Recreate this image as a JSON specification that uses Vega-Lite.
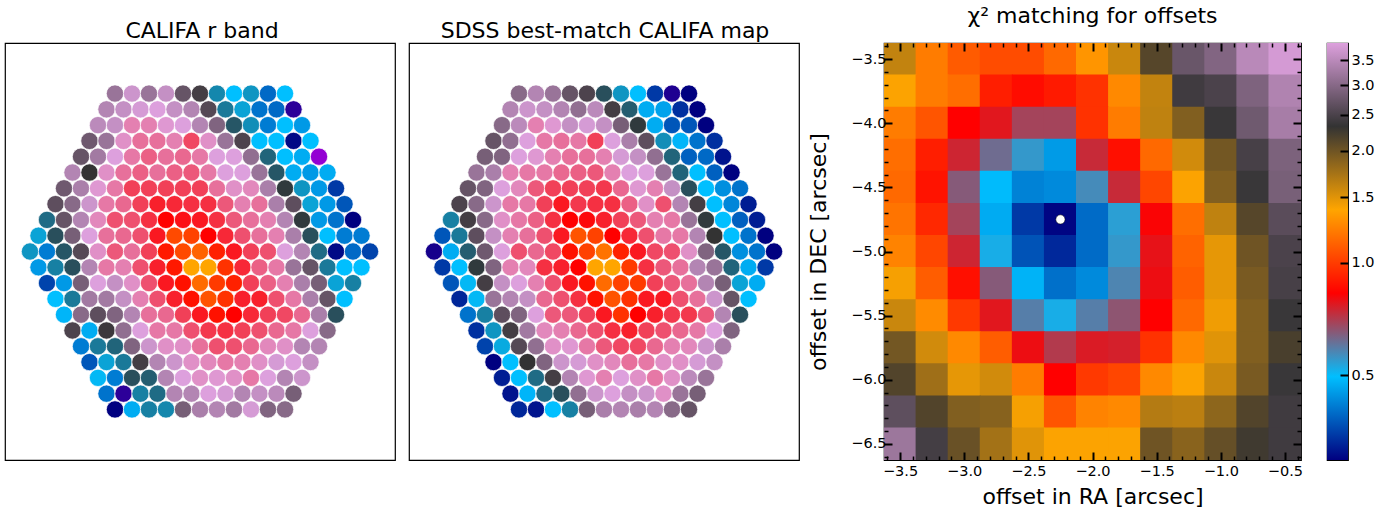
{"$schema":"https://vega.github.io/schema/vega-lite/v6.json","background":"white","padding":{"left":4,"top":4,"right":0,"bottom":0},"config":{"view":{"stroke":"black","strokeWidth":1.2},"font":"DejaVu Sans","title":{"font":"DejaVu Sans","fontWeight":"normal","fontSize":22,"color":"black","anchor":"middle"}},
"resolve":{"scale":{"color":"independent"}},
"datasets":{
"califa":[
{"x":-10,"y":10,"v":36},{"x":-8,"y":10,"v":39},{"x":-6,"y":10,"v":36},{"x":-4,"y":10,"v":38.5},{"x":-2,"y":10,"v":33},{"x":0,"y":10,"v":31},{"x":2,"y":10,"v":24},{"x":4,"y":10,"v":20},{"x":6,"y":10,"v":23},{"x":8,"y":10,"v":15.5},{"x":10,"y":10,"v":20},
{"x":-11,"y":9,"v":37.5},{"x":-9,"y":9,"v":38.5},{"x":-7,"y":9,"v":39.5},{"x":-5,"y":9,"v":40},{"x":-3,"y":9,"v":38.5},{"x":-1,"y":9,"v":37.5},{"x":1,"y":9,"v":32},{"x":3,"y":9,"v":25},{"x":5,"y":9,"v":22},{"x":7,"y":9,"v":16},{"x":9,"y":9,"v":15.5},{"x":11,"y":9,"v":7},
{"x":-12,"y":8,"v":38},{"x":-10,"y":8,"v":38.5},{"x":-8,"y":8,"v":42},{"x":-6,"y":8,"v":42},{"x":-4,"y":8,"v":40.5},{"x":-2,"y":8,"v":40},{"x":0,"y":8,"v":37.5},{"x":2,"y":8,"v":34.5},{"x":4,"y":8,"v":27.5},{"x":6,"y":8,"v":23.5},{"x":8,"y":8,"v":16.5},{"x":10,"y":8,"v":20},{"x":12,"y":8,"v":18},
{"x":-13,"y":7,"v":33.5},{"x":-11,"y":7,"v":36},{"x":-9,"y":7,"v":41},{"x":-7,"y":7,"v":43},{"x":-5,"y":7,"v":43},{"x":-3,"y":7,"v":42},{"x":-1,"y":7,"v":45.5},{"x":1,"y":7,"v":41},{"x":3,"y":7,"v":36},{"x":5,"y":7,"v":31.5},{"x":7,"y":7,"v":20},{"x":9,"y":7,"v":20},{"x":11,"y":7,"v":10.5},{"x":13,"y":7,"v":20},
{"x":-14,"y":6,"v":33},{"x":-12,"y":6,"v":36.5},{"x":-10,"y":6,"v":40},{"x":-8,"y":6,"v":42.5},{"x":-6,"y":6,"v":44},{"x":-4,"y":6,"v":43},{"x":-2,"y":6,"v":43.5},{"x":0,"y":6,"v":42.5},{"x":2,"y":6,"v":40},{"x":4,"y":6,"v":40},{"x":6,"y":6,"v":35.5},{"x":8,"y":6,"v":26.5},{"x":10,"y":6,"v":20},{"x":12,"y":6,"v":19},{"x":14,"y":6,"v":0},
{"x":-15,"y":5,"v":37.5},{"x":-13,"y":5,"v":30},{"x":-11,"y":5,"v":41},{"x":-9,"y":5,"v":43},{"x":-7,"y":5,"v":44},{"x":-5,"y":5,"v":43},{"x":-3,"y":5,"v":44},{"x":-1,"y":5,"v":44.5},{"x":1,"y":5,"v":42.5},{"x":3,"y":5,"v":40},{"x":5,"y":5,"v":40},{"x":7,"y":5,"v":36},{"x":9,"y":5,"v":27.5},{"x":11,"y":5,"v":19},{"x":13,"y":5,"v":18},{"x":15,"y":5,"v":19},
{"x":-16,"y":4,"v":33.5},{"x":-14,"y":4,"v":37},{"x":-12,"y":4,"v":40.5},{"x":-10,"y":4,"v":42.5},{"x":-8,"y":4,"v":46},{"x":-6,"y":4,"v":46},{"x":-4,"y":4,"v":46},{"x":-2,"y":4,"v":46},{"x":0,"y":4,"v":46},{"x":2,"y":4,"v":43},{"x":4,"y":4,"v":41},{"x":6,"y":4,"v":41.5},{"x":8,"y":4,"v":37},{"x":10,"y":4,"v":29.5},{"x":12,"y":4,"v":23},{"x":14,"y":4,"v":18},{"x":16,"y":4,"v":13},
{"x":-17,"y":3,"v":32.5},{"x":-15,"y":3,"v":35},{"x":-13,"y":3,"v":39},{"x":-11,"y":3,"v":42.5},{"x":-9,"y":3,"v":43.5},{"x":-7,"y":3,"v":46},{"x":-5,"y":3,"v":48},{"x":-3,"y":3,"v":47.5},{"x":-1,"y":3,"v":47},{"x":1,"y":3,"v":47},{"x":3,"y":3,"v":44.5},{"x":5,"y":3,"v":42},{"x":7,"y":3,"v":43},{"x":9,"y":3,"v":37},{"x":11,"y":3,"v":32.5},{"x":13,"y":3,"v":22},{"x":15,"y":3,"v":18},{"x":17,"y":3,"v":14.5},
{"x":-18,"y":2,"v":26},{"x":-16,"y":2,"v":33},{"x":-14,"y":2,"v":37.5},{"x":-12,"y":2,"v":41.5},{"x":-10,"y":2,"v":45},{"x":-8,"y":2,"v":45},{"x":-6,"y":2,"v":47},{"x":-4,"y":2,"v":50},{"x":-2,"y":2,"v":49},{"x":0,"y":2,"v":48.5},{"x":2,"y":2,"v":47},{"x":4,"y":2,"v":44.5},{"x":6,"y":2,"v":43},{"x":8,"y":2,"v":42},{"x":10,"y":2,"v":37.5},{"x":12,"y":2,"v":29.5},{"x":14,"y":2,"v":18},{"x":16,"y":2,"v":16},{"x":18,"y":2,"v":10},
{"x":-19,"y":1,"v":22},{"x":-17,"y":1,"v":28},{"x":-15,"y":1,"v":34},{"x":-13,"y":1,"v":40},{"x":-11,"y":1,"v":43},{"x":-9,"y":1,"v":43.5},{"x":-7,"y":1,"v":45},{"x":-5,"y":1,"v":48.5},{"x":-3,"y":1,"v":54.5},{"x":-1,"y":1,"v":54},{"x":1,"y":1,"v":50},{"x":3,"y":1,"v":47.5},{"x":5,"y":1,"v":45},{"x":7,"y":1,"v":43},{"x":9,"y":1,"v":42},{"x":11,"y":1,"v":37},{"x":13,"y":1,"v":28},{"x":15,"y":1,"v":20},{"x":17,"y":1,"v":16.5},{"x":19,"y":1,"v":16.5},
{"x":-20,"y":0,"v":23},{"x":-18,"y":0,"v":16.5},{"x":-16,"y":0,"v":27.5},{"x":-14,"y":0,"v":32},{"x":-12,"y":0,"v":41},{"x":-10,"y":0,"v":44.5},{"x":-8,"y":0,"v":43},{"x":-6,"y":0,"v":46},{"x":-4,"y":0,"v":51.5},{"x":-2,"y":0,"v":54.5},{"x":0,"y":0,"v":56},{"x":2,"y":0,"v":52},{"x":4,"y":0,"v":48.5},{"x":6,"y":0,"v":46},{"x":8,"y":0,"v":45},{"x":10,"y":0,"v":40},{"x":12,"y":0,"v":37.5},{"x":14,"y":0,"v":26},{"x":16,"y":0,"v":10.5},{"x":18,"y":0,"v":15.5},{"x":20,"y":0,"v":13.5},
{"x":-19,"y":-1,"v":18},{"x":-17,"y":-1,"v":24.5},{"x":-15,"y":-1,"v":28},{"x":-13,"y":-1,"v":37.5},{"x":-11,"y":-1,"v":42.5},{"x":-9,"y":-1,"v":42},{"x":-7,"y":-1,"v":45},{"x":-5,"y":-1,"v":48},{"x":-3,"y":-1,"v":51.5},{"x":-1,"y":-1,"v":60},{"x":1,"y":-1,"v":60},{"x":3,"y":-1,"v":53},{"x":5,"y":-1,"v":47.5},{"x":7,"y":-1,"v":44},{"x":9,"y":-1,"v":42.5},{"x":11,"y":-1,"v":36},{"x":13,"y":-1,"v":33},{"x":15,"y":-1,"v":25},{"x":17,"y":-1,"v":20},{"x":19,"y":-1,"v":20},
{"x":-18,"y":-2,"v":13.5},{"x":-16,"y":-2,"v":18},{"x":-14,"y":-2,"v":34},{"x":-12,"y":-2,"v":40},{"x":-10,"y":-2,"v":38.5},{"x":-8,"y":-2,"v":41},{"x":-6,"y":-2,"v":45},{"x":-4,"y":-2,"v":48.5},{"x":-2,"y":-2,"v":51},{"x":0,"y":-2,"v":56.5},{"x":2,"y":-2,"v":53.5},{"x":4,"y":-2,"v":52},{"x":6,"y":-2,"v":46},{"x":8,"y":-2,"v":44},{"x":10,"y":-2,"v":42},{"x":12,"y":-2,"v":37},{"x":14,"y":-2,"v":34},{"x":16,"y":-2,"v":22},{"x":18,"y":-2,"v":24.5},
{"x":-17,"y":-3,"v":20},{"x":-15,"y":-3,"v":25},{"x":-13,"y":-3,"v":36.5},{"x":-11,"y":-3,"v":36.5},{"x":-9,"y":-3,"v":38.5},{"x":-7,"y":-3,"v":42},{"x":-5,"y":-3,"v":45},{"x":-3,"y":-3,"v":48},{"x":-1,"y":-3,"v":51},{"x":1,"y":-3,"v":55},{"x":3,"y":-3,"v":53},{"x":5,"y":-3,"v":48},{"x":7,"y":-3,"v":48},{"x":9,"y":-3,"v":45},{"x":11,"y":-3,"v":42.5},{"x":13,"y":-3,"v":37},{"x":15,"y":-3,"v":33},{"x":17,"y":-3,"v":20},
{"x":-16,"y":-4,"v":19.5},{"x":-14,"y":-4,"v":35},{"x":-12,"y":-4,"v":32.5},{"x":-10,"y":-4,"v":34.5},{"x":-8,"y":-4,"v":37.5},{"x":-6,"y":-4,"v":43},{"x":-4,"y":-4,"v":43.5},{"x":-2,"y":-4,"v":46},{"x":0,"y":-4,"v":48.5},{"x":2,"y":-4,"v":51},{"x":4,"y":-4,"v":50},{"x":6,"y":-4,"v":47.5},{"x":8,"y":-4,"v":46},{"x":10,"y":-4,"v":45.5},{"x":12,"y":-4,"v":43.5},{"x":14,"y":-4,"v":37},{"x":16,"y":-4,"v":28},
{"x":-15,"y":-5,"v":31.5},{"x":-13,"y":-5,"v":19},{"x":-11,"y":-5,"v":30.5},{"x":-9,"y":-5,"v":35.5},{"x":-7,"y":-5,"v":40},{"x":-5,"y":-5,"v":42.5},{"x":-3,"y":-5,"v":42.5},{"x":-1,"y":-5,"v":45},{"x":1,"y":-5,"v":46.5},{"x":3,"y":-5,"v":47},{"x":5,"y":-5,"v":46},{"x":7,"y":-5,"v":45},{"x":9,"y":-5,"v":43.5},{"x":11,"y":-5,"v":42.5},{"x":13,"y":-5,"v":40},{"x":15,"y":-5,"v":35},
{"x":-14,"y":-6,"v":16.5},{"x":-12,"y":-6,"v":25},{"x":-10,"y":-6,"v":26.5},{"x":-8,"y":-6,"v":34.5},{"x":-6,"y":-6,"v":39},{"x":-4,"y":-6,"v":41},{"x":-2,"y":-6,"v":41},{"x":0,"y":-6,"v":43},{"x":2,"y":-6,"v":45},{"x":4,"y":-6,"v":45},{"x":6,"y":-6,"v":43.5},{"x":8,"y":-6,"v":41.5},{"x":10,"y":-6,"v":41},{"x":12,"y":-6,"v":37.5},{"x":14,"y":-6,"v":37.5},
{"x":-13,"y":-7,"v":14.5},{"x":-11,"y":-7,"v":22},{"x":-9,"y":-7,"v":25},{"x":-7,"y":-7,"v":31},{"x":-5,"y":-7,"v":37.5},{"x":-3,"y":-7,"v":39},{"x":-1,"y":-7,"v":41},{"x":1,"y":-7,"v":41.5},{"x":3,"y":-7,"v":42.5},{"x":5,"y":-7,"v":42},{"x":7,"y":-7,"v":41},{"x":9,"y":-7,"v":39.5},{"x":11,"y":-7,"v":40},{"x":13,"y":-7,"v":38.5},
{"x":-12,"y":-8,"v":20.5},{"x":-10,"y":-8,"v":16.5},{"x":-8,"y":-8,"v":28},{"x":-6,"y":-8,"v":27},{"x":-4,"y":-8,"v":37.5},{"x":-2,"y":-8,"v":40},{"x":0,"y":-8,"v":41},{"x":2,"y":-8,"v":40.5},{"x":4,"y":-8,"v":41},{"x":6,"y":-8,"v":42.5},{"x":8,"y":-8,"v":40},{"x":10,"y":-8,"v":37.5},{"x":12,"y":-8,"v":39},
{"x":-11,"y":-9,"v":16},{"x":-9,"y":-9,"v":7},{"x":-7,"y":-9,"v":24.5},{"x":-5,"y":-9,"v":26},{"x":-3,"y":-9,"v":37.5},{"x":-1,"y":-9,"v":37.5},{"x":1,"y":-9,"v":40},{"x":3,"y":-9,"v":39.5},{"x":5,"y":-9,"v":37.5},{"x":7,"y":-9,"v":38.5},{"x":9,"y":-9,"v":38},{"x":11,"y":-9,"v":34},
{"x":-10,"y":-10,"v":10},{"x":-8,"y":-10,"v":19},{"x":-6,"y":-10,"v":24.5},{"x":-4,"y":-10,"v":24},{"x":-2,"y":-10,"v":34},{"x":0,"y":-10,"v":37},{"x":2,"y":-10,"v":37.5},{"x":4,"y":-10,"v":36.5},{"x":6,"y":-10,"v":39.5},{"x":8,"y":-10,"v":34.5},{"x":10,"y":-10,"v":35}
],
"sdss":[
{"x":-10,"y":10,"v":35},{"x":-8,"y":10,"v":37.5},{"x":-6,"y":10,"v":36},{"x":-4,"y":10,"v":33},{"x":-2,"y":10,"v":31.5},{"x":0,"y":10,"v":28},{"x":2,"y":10,"v":23},{"x":4,"y":10,"v":20},{"x":6,"y":10,"v":13},{"x":8,"y":10,"v":8},{"x":10,"y":10,"v":10},
{"x":-11,"y":9,"v":37.5},{"x":-9,"y":9,"v":39},{"x":-7,"y":9,"v":38.5},{"x":-5,"y":9,"v":37.5},{"x":-3,"y":9,"v":35.5},{"x":-1,"y":9,"v":38},{"x":1,"y":9,"v":31},{"x":3,"y":9,"v":27},{"x":5,"y":9,"v":19},{"x":7,"y":9,"v":18.5},{"x":9,"y":9,"v":12.5},{"x":11,"y":9,"v":10},
{"x":-12,"y":8,"v":35},{"x":-10,"y":8,"v":38},{"x":-8,"y":8,"v":42},{"x":-6,"y":8,"v":40.5},{"x":-4,"y":8,"v":38.5},{"x":-2,"y":8,"v":39.5},{"x":0,"y":8,"v":38.5},{"x":2,"y":8,"v":34},{"x":4,"y":8,"v":29.5},{"x":6,"y":8,"v":19},{"x":8,"y":8,"v":14.5},{"x":10,"y":8,"v":14.5},{"x":12,"y":8,"v":10},
{"x":-13,"y":7,"v":33},{"x":-11,"y":7,"v":35.5},{"x":-9,"y":7,"v":40},{"x":-7,"y":7,"v":42.5},{"x":-5,"y":7,"v":43},{"x":-3,"y":7,"v":42.5},{"x":-1,"y":7,"v":46},{"x":1,"y":7,"v":40},{"x":3,"y":7,"v":37},{"x":5,"y":7,"v":32.5},{"x":7,"y":7,"v":23.5},{"x":9,"y":7,"v":19.5},{"x":11,"y":7,"v":16},{"x":13,"y":7,"v":12.5},
{"x":-14,"y":6,"v":34},{"x":-12,"y":6,"v":34.5},{"x":-10,"y":6,"v":40},{"x":-8,"y":6,"v":40.5},{"x":-6,"y":6,"v":42},{"x":-4,"y":6,"v":43},{"x":-2,"y":6,"v":43},{"x":0,"y":6,"v":42},{"x":2,"y":6,"v":39.5},{"x":4,"y":6,"v":38.5},{"x":6,"y":6,"v":35.5},{"x":8,"y":6,"v":26.5},{"x":10,"y":6,"v":15},{"x":12,"y":6,"v":15.5},{"x":14,"y":6,"v":11},
{"x":-15,"y":5,"v":36},{"x":-13,"y":5,"v":37},{"x":-11,"y":5,"v":42},{"x":-9,"y":5,"v":42.5},{"x":-7,"y":5,"v":42.5},{"x":-5,"y":5,"v":43.5},{"x":-3,"y":5,"v":44},{"x":-1,"y":5,"v":44.5},{"x":1,"y":5,"v":42},{"x":3,"y":5,"v":40},{"x":5,"y":5,"v":40},{"x":7,"y":5,"v":36},{"x":9,"y":5,"v":26.5},{"x":11,"y":5,"v":20},{"x":13,"y":5,"v":15},{"x":15,"y":5,"v":10},
{"x":-16,"y":4,"v":33},{"x":-14,"y":4,"v":34.5},{"x":-12,"y":4,"v":40},{"x":-10,"y":4,"v":41.5},{"x":-8,"y":4,"v":44.5},{"x":-6,"y":4,"v":46},{"x":-4,"y":4,"v":46},{"x":-2,"y":4,"v":46},{"x":0,"y":4,"v":46.5},{"x":2,"y":4,"v":43.5},{"x":4,"y":4,"v":40.5},{"x":6,"y":4,"v":42},{"x":8,"y":4,"v":38.5},{"x":10,"y":4,"v":28},{"x":12,"y":4,"v":20},{"x":14,"y":4,"v":17.5},{"x":16,"y":4,"v":16},
{"x":-17,"y":3,"v":31.5},{"x":-15,"y":3,"v":35},{"x":-13,"y":3,"v":39},{"x":-11,"y":3,"v":42.5},{"x":-9,"y":3,"v":42.5},{"x":-7,"y":3,"v":46},{"x":-5,"y":3,"v":48.5},{"x":-3,"y":3,"v":46.5},{"x":-1,"y":3,"v":47},{"x":1,"y":3,"v":47},{"x":3,"y":3,"v":44},{"x":5,"y":3,"v":41},{"x":7,"y":3,"v":45},{"x":9,"y":3,"v":37.5},{"x":11,"y":3,"v":31},{"x":13,"y":3,"v":20},{"x":15,"y":3,"v":17},{"x":17,"y":3,"v":11.5},
{"x":-18,"y":2,"v":24.5},{"x":-16,"y":2,"v":31},{"x":-14,"y":2,"v":35},{"x":-12,"y":2,"v":41},{"x":-10,"y":2,"v":42.5},{"x":-8,"y":2,"v":44},{"x":-6,"y":2,"v":47},{"x":-4,"y":2,"v":50},{"x":-2,"y":2,"v":49.5},{"x":0,"y":2,"v":48},{"x":2,"y":2,"v":46},{"x":4,"y":2,"v":44.5},{"x":6,"y":2,"v":42},{"x":8,"y":2,"v":42.5},{"x":10,"y":2,"v":36},{"x":12,"y":2,"v":29.5},{"x":14,"y":2,"v":20},{"x":16,"y":2,"v":15},{"x":18,"y":2,"v":11.5},
{"x":-19,"y":1,"v":14.5},{"x":-17,"y":1,"v":25},{"x":-15,"y":1,"v":32.5},{"x":-13,"y":1,"v":38.5},{"x":-11,"y":1,"v":42},{"x":-9,"y":1,"v":43},{"x":-7,"y":1,"v":45},{"x":-5,"y":1,"v":48.5},{"x":-3,"y":1,"v":55},{"x":-1,"y":1,"v":54},{"x":1,"y":1,"v":50},{"x":3,"y":1,"v":47.5},{"x":5,"y":1,"v":45},{"x":7,"y":1,"v":42.5},{"x":9,"y":1,"v":42.5},{"x":11,"y":1,"v":37.5},{"x":13,"y":1,"v":30},{"x":15,"y":1,"v":20},{"x":17,"y":1,"v":16},{"x":19,"y":1,"v":10},
{"x":-20,"y":0,"v":8.5},{"x":-18,"y":0,"v":19},{"x":-16,"y":0,"v":27},{"x":-14,"y":0,"v":33.5},{"x":-12,"y":0,"v":40},{"x":-10,"y":0,"v":45},{"x":-8,"y":0,"v":43.5},{"x":-6,"y":0,"v":45.5},{"x":-4,"y":0,"v":51},{"x":-2,"y":0,"v":54},{"x":0,"y":0,"v":57},{"x":2,"y":0,"v":52},{"x":4,"y":0,"v":48.5},{"x":6,"y":0,"v":45.5},{"x":8,"y":0,"v":45},{"x":10,"y":0,"v":41},{"x":12,"y":0,"v":34.5},{"x":14,"y":0,"v":27.5},{"x":16,"y":0,"v":17.5},{"x":18,"y":0,"v":16},{"x":20,"y":0,"v":10},
{"x":-19,"y":-1,"v":13},{"x":-17,"y":-1,"v":20},{"x":-15,"y":-1,"v":29.5},{"x":-13,"y":-1,"v":34.5},{"x":-11,"y":-1,"v":42},{"x":-9,"y":-1,"v":41.5},{"x":-7,"y":-1,"v":47},{"x":-5,"y":-1,"v":48},{"x":-3,"y":-1,"v":50},{"x":-1,"y":-1,"v":60},{"x":1,"y":-1,"v":60},{"x":3,"y":-1,"v":53.5},{"x":5,"y":-1,"v":47},{"x":7,"y":-1,"v":44.5},{"x":9,"y":-1,"v":43},{"x":11,"y":-1,"v":37.5},{"x":13,"y":-1,"v":36},{"x":15,"y":-1,"v":26.5},{"x":17,"y":-1,"v":19},{"x":19,"y":-1,"v":13},
{"x":-18,"y":-2,"v":14.5},{"x":-16,"y":-2,"v":20.5},{"x":-14,"y":-2,"v":31},{"x":-12,"y":-2,"v":38.5},{"x":-10,"y":-2,"v":40},{"x":-8,"y":-2,"v":42},{"x":-6,"y":-2,"v":45},{"x":-4,"y":-2,"v":48.5},{"x":-2,"y":-2,"v":51},{"x":0,"y":-2,"v":56.5},{"x":2,"y":-2,"v":54},{"x":4,"y":-2,"v":53.5},{"x":6,"y":-2,"v":46},{"x":8,"y":-2,"v":44.5},{"x":10,"y":-2,"v":43},{"x":12,"y":-2,"v":37.5},{"x":14,"y":-2,"v":34},{"x":16,"y":-2,"v":22},{"x":18,"y":-2,"v":19},
{"x":-17,"y":-3,"v":12},{"x":-15,"y":-3,"v":20.5},{"x":-13,"y":-3,"v":36},{"x":-11,"y":-3,"v":37.5},{"x":-9,"y":-3,"v":38.5},{"x":-7,"y":-3,"v":43.5},{"x":-5,"y":-3,"v":45},{"x":-3,"y":-3,"v":47},{"x":-1,"y":-3,"v":51},{"x":1,"y":-3,"v":55},{"x":3,"y":-3,"v":53},{"x":5,"y":-3,"v":48.5},{"x":7,"y":-3,"v":48.5},{"x":9,"y":-3,"v":45},{"x":11,"y":-3,"v":43},{"x":13,"y":-3,"v":39},{"x":15,"y":-3,"v":33},{"x":17,"y":-3,"v":20},
{"x":-16,"y":-4,"v":16},{"x":-14,"y":-4,"v":24.5},{"x":-12,"y":-4,"v":32.5},{"x":-10,"y":-4,"v":34.5},{"x":-8,"y":-4,"v":40},{"x":-6,"y":-4,"v":44.5},{"x":-4,"y":-4,"v":44.5},{"x":-2,"y":-4,"v":46},{"x":0,"y":-4,"v":48.5},{"x":2,"y":-4,"v":53},{"x":4,"y":-4,"v":50},{"x":6,"y":-4,"v":48},{"x":8,"y":-4,"v":46.5},{"x":10,"y":-4,"v":46.5},{"x":12,"y":-4,"v":44.5},{"x":14,"y":-4,"v":37.5},{"x":16,"y":-4,"v":28},
{"x":-15,"y":-5,"v":12.5},{"x":-13,"y":-5,"v":23},{"x":-11,"y":-5,"v":31},{"x":-9,"y":-5,"v":36.5},{"x":-7,"y":-5,"v":41.5},{"x":-5,"y":-5,"v":42},{"x":-3,"y":-5,"v":43.5},{"x":-1,"y":-5,"v":45},{"x":1,"y":-5,"v":47},{"x":3,"y":-5,"v":48},{"x":5,"y":-5,"v":46},{"x":7,"y":-5,"v":45},{"x":9,"y":-5,"v":43.5},{"x":11,"y":-5,"v":42.5},{"x":13,"y":-5,"v":40},{"x":15,"y":-5,"v":34.5},
{"x":-14,"y":-6,"v":13.5},{"x":-12,"y":-6,"v":21.5},{"x":-10,"y":-6,"v":32},{"x":-8,"y":-6,"v":35.5},{"x":-6,"y":-6,"v":41},{"x":-4,"y":-6,"v":40.5},{"x":-2,"y":-6,"v":42.5},{"x":0,"y":-6,"v":44.5},{"x":2,"y":-6,"v":45.5},{"x":4,"y":-6,"v":45.5},{"x":6,"y":-6,"v":43.5},{"x":8,"y":-6,"v":42},{"x":10,"y":-6,"v":41.5},{"x":12,"y":-6,"v":39},{"x":14,"y":-6,"v":37},
{"x":-13,"y":-7,"v":10},{"x":-11,"y":-7,"v":20},{"x":-9,"y":-7,"v":30},{"x":-7,"y":-7,"v":34.5},{"x":-5,"y":-7,"v":39},{"x":-3,"y":-7,"v":39.5},{"x":-1,"y":-7,"v":41},{"x":1,"y":-7,"v":41.5},{"x":3,"y":-7,"v":43},{"x":5,"y":-7,"v":42.5},{"x":7,"y":-7,"v":41},{"x":9,"y":-7,"v":41},{"x":11,"y":-7,"v":39.5},{"x":13,"y":-7,"v":38.5},
{"x":-12,"y":-8,"v":11.5},{"x":-10,"y":-8,"v":20},{"x":-8,"y":-8,"v":26},{"x":-6,"y":-8,"v":31},{"x":-4,"y":-8,"v":37.5},{"x":-2,"y":-8,"v":40.5},{"x":0,"y":-8,"v":42},{"x":2,"y":-8,"v":40},{"x":4,"y":-8,"v":41},{"x":6,"y":-8,"v":42.5},{"x":8,"y":-8,"v":41},{"x":10,"y":-8,"v":38},{"x":12,"y":-8,"v":36},
{"x":-11,"y":-9,"v":11},{"x":-9,"y":-9,"v":19.5},{"x":-7,"y":-9,"v":26},{"x":-5,"y":-9,"v":28},{"x":-3,"y":-9,"v":35.5},{"x":-1,"y":-9,"v":39},{"x":1,"y":-9,"v":40},{"x":3,"y":-9,"v":38.5},{"x":5,"y":-9,"v":39},{"x":7,"y":-9,"v":41},{"x":9,"y":-9,"v":36},{"x":11,"y":-9,"v":34},
{"x":-10,"y":-10,"v":12},{"x":-8,"y":-10,"v":11},{"x":-6,"y":-10,"v":20},{"x":-4,"y":-10,"v":24.5},{"x":-2,"y":-10,"v":34},{"x":0,"y":-10,"v":37},{"x":2,"y":-10,"v":37.5},{"x":4,"y":-10,"v":37},{"x":6,"y":-10,"v":37.5},{"x":8,"y":-10,"v":35},{"x":10,"y":-10,"v":33}
],
"offsets":[
{"ra":-3.5,"dec":-3.5,"chi2":1.62},{"ra":-3.25,"dec":-3.5,"chi2":1.22},{"ra":-3,"dec":-3.5,"chi2":1.1},{"ra":-2.75,"dec":-3.5,"chi2":1.05},{"ra":-2.5,"dec":-3.5,"chi2":1.05},{"ra":-2.25,"dec":-3.5,"chi2":1.15},{"ra":-2,"dec":-3.5,"chi2":1.32},{"ra":-1.75,"dec":-3.5,"chi2":1.59},{"ra":-1.5,"dec":-3.5,"chi2":2.13},{"ra":-1.25,"dec":-3.5,"chi2":2.74},{"ra":-1,"dec":-3.5,"chi2":2.95},{"ra":-0.75,"dec":-3.5,"chi2":3.49},{"ra":-0.5,"dec":-3.5,"chi2":3.79},
{"ra":-3.5,"dec":-3.75,"chi2":1.4},{"ra":-3.25,"dec":-3.75,"chi2":1.22},{"ra":-3,"dec":-3.75,"chi2":1.17},{"ra":-2.75,"dec":-3.75,"chi2":0.91},{"ra":-2.5,"dec":-3.75,"chi2":0.86},{"ra":-2.25,"dec":-3.75,"chi2":0.9},{"ra":-2,"dec":-3.75,"chi2":0.97},{"ra":-1.75,"dec":-3.75,"chi2":1.27},{"ra":-1.5,"dec":-3.75,"chi2":1.62},{"ra":-1.25,"dec":-3.75,"chi2":2.42},{"ra":-1,"dec":-3.75,"chi2":2.5},{"ra":-0.75,"dec":-3.75,"chi2":2.92},{"ra":-0.5,"dec":-3.75,"chi2":3.4},
{"ra":-3.5,"dec":-4,"chi2":1.22},{"ra":-3.25,"dec":-4,"chi2":1.08},{"ra":-3,"dec":-4,"chi2":0.83},{"ra":-2.75,"dec":-4,"chi2":0.78},{"ra":-2.5,"dec":-4,"chi2":0.69},{"ra":-2.25,"dec":-4,"chi2":0.69},{"ra":-2,"dec":-4,"chi2":0.97},{"ra":-1.75,"dec":-4,"chi2":1.22},{"ra":-1.5,"dec":-4,"chi2":1.63},{"ra":-1.25,"dec":-4,"chi2":1.91},{"ra":-1,"dec":-4,"chi2":2.37},{"ra":-0.75,"dec":-4,"chi2":2.79},{"ra":-0.5,"dec":-4,"chi2":3.3},
{"ra":-3.5,"dec":-4.25,"chi2":1.17},{"ra":-3.25,"dec":-4.25,"chi2":0.91},{"ra":-3,"dec":-4.25,"chi2":0.75},{"ra":-2.75,"dec":-4.25,"chi2":0.62},{"ra":-2.5,"dec":-4.25,"chi2":0.55},{"ra":-2.25,"dec":-4.25,"chi2":0.45},{"ra":-2,"dec":-4.25,"chi2":0.74},{"ra":-1.75,"dec":-4.25,"chi2":0.87},{"ra":-1.5,"dec":-4.25,"chi2":1.15},{"ra":-1.25,"dec":-4.25,"chi2":1.56},{"ra":-1,"dec":-4.25,"chi2":1.98},{"ra":-0.75,"dec":-4.25,"chi2":2.47},{"ra":-0.5,"dec":-4.25,"chi2":2.9},
{"ra":-3.5,"dec":-4.5,"chi2":1.15},{"ra":-3.25,"dec":-4.5,"chi2":0.88},{"ra":-3,"dec":-4.5,"chi2":0.65},{"ra":-2.75,"dec":-4.5,"chi2":0.49},{"ra":-2.5,"dec":-4.5,"chi2":0.42},{"ra":-2.25,"dec":-4.5,"chi2":0.43},{"ra":-2,"dec":-4.5,"chi2":0.57},{"ra":-1.75,"dec":-4.5,"chi2":0.74},{"ra":-1.5,"dec":-4.5,"chi2":1.03},{"ra":-1.25,"dec":-4.5,"chi2":1.4},{"ra":-1,"dec":-4.5,"chi2":1.91},{"ra":-0.75,"dec":-4.5,"chi2":2.37},{"ra":-0.5,"dec":-4.5,"chi2":2.87},
{"ra":-3.5,"dec":-4.75,"chi2":1.19},{"ra":-3.25,"dec":-4.75,"chi2":0.94},{"ra":-3,"dec":-4.75,"chi2":0.69},{"ra":-2.75,"dec":-4.75,"chi2":0.47},{"ra":-2.5,"dec":-4.75,"chi2":0.345},{"ra":-2.25,"dec":-4.75,"chi2":0.3},{"ra":-2,"dec":-4.75,"chi2":0.395},{"ra":-1.75,"dec":-4.75,"chi2":0.54},{"ra":-1.5,"dec":-4.75,"chi2":0.82},{"ra":-1.25,"dec":-4.75,"chi2":1.17},{"ra":-1,"dec":-4.75,"chi2":1.63},{"ra":-0.75,"dec":-4.75,"chi2":2.13},{"ra":-0.5,"dec":-4.75,"chi2":2.62},
{"ra":-3.5,"dec":-5,"chi2":1.25},{"ra":-3.25,"dec":-5,"chi2":1.03},{"ra":-3,"dec":-5,"chi2":0.75},{"ra":-2.75,"dec":-5,"chi2":0.52},{"ra":-2.5,"dec":-5,"chi2":0.37},{"ra":-2.25,"dec":-5,"chi2":0.33},{"ra":-2,"dec":-5,"chi2":0.395},{"ra":-1.75,"dec":-5,"chi2":0.55},{"ra":-1.5,"dec":-5,"chi2":0.79},{"ra":-1.25,"dec":-5,"chi2":1.13},{"ra":-1,"dec":-5,"chi2":1.48},{"ra":-0.75,"dec":-5,"chi2":2},{"ra":-0.5,"dec":-5,"chi2":2.5},
{"ra":-3.5,"dec":-5.25,"chi2":1.42},{"ra":-3.25,"dec":-5.25,"chi2":1.11},{"ra":-3,"dec":-5.25,"chi2":0.87},{"ra":-2.75,"dec":-5.25,"chi2":0.65},{"ra":-2.5,"dec":-5.25,"chi2":0.48},{"ra":-2.25,"dec":-5.25,"chi2":0.4},{"ra":-2,"dec":-5.25,"chi2":0.43},{"ra":-1.75,"dec":-5.25,"chi2":0.58},{"ra":-1.5,"dec":-5.25,"chi2":0.8},{"ra":-1.25,"dec":-5.25,"chi2":1.11},{"ra":-1,"dec":-5.25,"chi2":1.48},{"ra":-0.75,"dec":-5.25,"chi2":1.95},{"ra":-0.5,"dec":-5.25,"chi2":2.47},
{"ra":-3.5,"dec":-5.5,"chi2":1.59},{"ra":-3.25,"dec":-5.5,"chi2":1.28},{"ra":-3,"dec":-5.5,"chi2":0.99},{"ra":-2.75,"dec":-5.5,"chi2":0.78},{"ra":-2.5,"dec":-5.5,"chi2":0.59},{"ra":-2.25,"dec":-5.5,"chi2":0.52},{"ra":-2,"dec":-5.5,"chi2":0.59},{"ra":-1.75,"dec":-5.5,"chi2":0.66},{"ra":-1.5,"dec":-5.5,"chi2":0.83},{"ra":-1.25,"dec":-5.5,"chi2":1.15},{"ra":-1,"dec":-5.5,"chi2":1.44},{"ra":-0.75,"dec":-5.5,"chi2":1.91},{"ra":-0.5,"dec":-5.5,"chi2":2.37},
{"ra":-3.5,"dec":-5.75,"chi2":1.98},{"ra":-3.25,"dec":-5.75,"chi2":1.56},{"ra":-3,"dec":-5.75,"chi2":1.27},{"ra":-2.75,"dec":-5.75,"chi2":1.11},{"ra":-2.5,"dec":-5.75,"chi2":0.8},{"ra":-2.25,"dec":-5.75,"chi2":0.71},{"ra":-2,"dec":-5.75,"chi2":0.77},{"ra":-1.75,"dec":-5.75,"chi2":0.76},{"ra":-1.5,"dec":-5.75,"chi2":0.97},{"ra":-1.25,"dec":-5.75,"chi2":1.27},{"ra":-1,"dec":-5.75,"chi2":1.5},{"ra":-0.75,"dec":-5.75,"chi2":1.91},{"ra":-0.5,"dec":-5.75,"chi2":2.2},
{"ra":-3.5,"dec":-6,"chi2":2.15},{"ra":-3.25,"dec":-6,"chi2":1.77},{"ra":-3,"dec":-6,"chi2":1.48},{"ra":-2.75,"dec":-6,"chi2":1.56},{"ra":-2.5,"dec":-6,"chi2":1.22},{"ra":-2.25,"dec":-6,"chi2":0.83},{"ra":-2,"dec":-6,"chi2":0.99},{"ra":-1.75,"dec":-6,"chi2":1.03},{"ra":-1.5,"dec":-6,"chi2":1.27},{"ra":-1.25,"dec":-6,"chi2":1.4},{"ra":-1,"dec":-6,"chi2":1.59},{"ra":-0.75,"dec":-6,"chi2":1.95},{"ra":-0.5,"dec":-6,"chi2":2.37},
{"ra":-3.5,"dec":-6.25,"chi2":2.65},{"ra":-3.25,"dec":-6.25,"chi2":2.15},{"ra":-3,"dec":-6.25,"chi2":1.91},{"ra":-2.75,"dec":-6.25,"chi2":1.88},{"ra":-2.5,"dec":-6.25,"chi2":1.42},{"ra":-2.25,"dec":-6.25,"chi2":1.08},{"ra":-2,"dec":-6.25,"chi2":1.25},{"ra":-1.75,"dec":-6.25,"chi2":1.27},{"ra":-1.5,"dec":-6.25,"chi2":1.68},{"ra":-1.25,"dec":-6.25,"chi2":1.65},{"ra":-1,"dec":-6.25,"chi2":1.85},{"ra":-0.75,"dec":-6.25,"chi2":2.15},{"ra":-0.5,"dec":-6.25,"chi2":2.42},
{"ra":-3.5,"dec":-6.5,"chi2":3.2},{"ra":-3.25,"dec":-6.5,"chi2":2.45},{"ra":-3,"dec":-6.5,"chi2":2.03},{"ra":-2.75,"dec":-6.5,"chi2":1.75},{"ra":-2.5,"dec":-6.5,"chi2":1.5},{"ra":-2.25,"dec":-6.5,"chi2":1.4},{"ra":-2,"dec":-6.5,"chi2":1.4},{"ra":-1.75,"dec":-6.5,"chi2":1.4},{"ra":-1.5,"dec":-6.5,"chi2":2},{"ra":-1.25,"dec":-6.5,"chi2":1.87},{"ra":-1,"dec":-6.5,"chi2":2.05},{"ra":-0.75,"dec":-6.5,"chi2":2.25},{"ra":-0.5,"dec":-6.5,"chi2":2.42}
]},
"spacing":7,
"hconcat":[
{"spacing":12,"hconcat":[
{"width":390,"height":417,"title":{"text":"CALIFA r band","offset":0,"dx":2},"data":{"name":"califa"},"mark":{"type":"circle","size":300,"opacity":1,"stroke":"white","strokeWidth":0.7},"encoding":{"x":{"field":"x","type":"quantitative","scale":{"domain":[-22.94,22.94],"nice":false,"zero":false},"axis":null},"y":{"field":"y","type":"quantitative","scale":{"domain":[-13.2,13.2],"nice":false,"zero":false},"axis":null},"color":{"field":"v","type":"quantitative","legend":null,"scale":{"domain":[0,10,20,30,40,50,60],"range":["#9400d3","#000080","#00bfff","#333333","#dda0dd","#ff0000","#ffa500"],"interpolate":"rgb"}}}},
{"width":390,"height":417,"title":{"text":"SDSS best-match CALIFA map","offset":0,"dx":1},"data":{"name":"sdss"},"mark":{"type":"circle","size":300,"opacity":1,"stroke":"white","strokeWidth":0.7},"encoding":{"x":{"field":"x","type":"quantitative","scale":{"domain":[-22.94,22.94],"nice":false,"zero":false},"axis":null},"y":{"field":"y","type":"quantitative","scale":{"domain":[-13.2,13.2],"nice":false,"zero":false},"axis":null},"color":{"field":"v","type":"quantitative","legend":null,"scale":{"domain":[0,10,20,30,40,50,60],"range":["#9400d3","#000080","#00bfff","#333333","#dda0dd","#ff0000","#ffa500"],"interpolate":"rgb"}}}}
]},
{"spacing":22,"hconcat":[
{"width":417,"height":417,"title":{"text":"χ²  matching for offsets","offset":10},
"layer":[
{"data":{"name":"offsets"},"mark":{"type":"rect","width":33,"height":33,"clip":true},"encoding":{
"x":{"field":"ra","type":"quantitative","scale":{"domain":[-3.625,-0.375],"nice":false,"zero":false},"axis":{"orient":"bottom","title":"offset in RA [arcsec]","titleFontSize":22,"titleFontWeight":"normal","titleColor":"black","titlePadding":5,"domain":false,"grid":false,"zindex":1,"values":[-3.6,-3.5,-3.4,-3.3,-3.2,-3.1,-3,-2.9,-2.8,-2.7,-2.6,-2.5,-2.4,-2.3,-2.2,-2.1,-2,-1.9,-1.8,-1.7,-1.6,-1.5,-1.4,-1.3,-1.2,-1.1,-1,-0.9,-0.8,-0.7,-0.6,-0.5,-0.4],"labelExpr":"abs(datum.value*2-round(datum.value*2))<0.01 ? '−'+format(abs(datum.value),'.1f') : ''","labelFontSize":14.5,"labelColor":"black","labelOverlap":false,"labelBound":false,"labelFlush":false,"labelPadding":12,"tickColor":"black","tickSize":{"condition":{"test":"abs(datum.value*2-round(datum.value*2))<0.01","value":-8},"value":-4},"tickWidth":{"condition":{"test":"abs(datum.value*2-round(datum.value*2))<0.01","value":2},"value":1.5}}},
"y":{"field":"dec","type":"quantitative","scale":{"domain":[-6.625,-3.375],"nice":false,"zero":false},"axis":{"orient":"left","title":"offset in DEC [arcsec]","titleFontSize":22,"titleFontWeight":"normal","titleColor":"black","titlePadding":20,"domain":false,"grid":false,"zindex":1,"values":[-6.6,-6.5,-6.4,-6.3,-6.2,-6.1,-6,-5.9,-5.8,-5.7,-5.6,-5.5,-5.4,-5.3,-5.2,-5.1,-5,-4.9,-4.8,-4.7,-4.6,-4.5,-4.4,-4.3,-4.2,-4.1,-4,-3.9,-3.8,-3.7,-3.6,-3.5,-3.4],"labelExpr":"abs(datum.value*2-round(datum.value*2))<0.01 ? '−'+format(abs(datum.value),'.1f') : ''","labelFontSize":14.5,"labelColor":"black","labelOverlap":false,"labelBound":false,"labelFlush":false,"labelPadding":6,"tickColor":"black","tickSize":{"condition":{"test":"abs(datum.value*2-round(datum.value*2))<0.01","value":-8},"value":-4},"tickWidth":{"condition":{"test":"abs(datum.value*2-round(datum.value*2))<0.01","value":2},"value":1.5}}},
"color":{"field":"chi2","type":"quantitative","legend":null,"scale":{"type":"log","domain":[0.296,0.4955,0.829,1.388,2.326,3.89],"range":["#000080","#00bfff","#ff0000","#ffa500","#333333","#dda0dd"],"interpolate":"rgb","clamp":true}}}},
{"data":{"values":[{"ra":-2.25,"dec":-4.75}]},"mark":{"type":"circle","size":85,"opacity":1,"color":"white","stroke":"black","strokeWidth":0.5},"encoding":{
"x":{"field":"ra","type":"quantitative","scale":{"domain":[-3.625,-0.375],"nice":false,"zero":false},"axis":{"orient":"top","title":null,"labels":false,"domain":false,"grid":false,"zindex":1,"values":[-3.6,-3.5,-3.4,-3.3,-3.2,-3.1,-3,-2.9,-2.8,-2.7,-2.6,-2.5,-2.4,-2.3,-2.2,-2.1,-2,-1.9,-1.8,-1.7,-1.6,-1.5,-1.4,-1.3,-1.2,-1.1,-1,-0.9,-0.8,-0.7,-0.6,-0.5,-0.4],"tickColor":"black","tickSize":{"condition":{"test":"abs(datum.value*2-round(datum.value*2))<0.01","value":-8},"value":-4},"tickWidth":{"condition":{"test":"abs(datum.value*2-round(datum.value*2))<0.01","value":2},"value":1.5}}},
"y":{"field":"dec","type":"quantitative","scale":{"domain":[-6.625,-3.375],"nice":false,"zero":false},"axis":{"orient":"right","title":null,"labels":false,"domain":false,"grid":false,"zindex":1,"values":[-6.6,-6.5,-6.4,-6.3,-6.2,-6.1,-6,-5.9,-5.8,-5.7,-5.6,-5.5,-5.4,-5.3,-5.2,-5.1,-5,-4.9,-4.8,-4.7,-4.6,-4.5,-4.4,-4.3,-4.2,-4.1,-4,-3.9,-3.8,-3.7,-3.6,-3.5,-3.4],"tickColor":"black","tickSize":{"condition":{"test":"abs(datum.value*2-round(datum.value*2))<0.01","value":-8},"value":-4},"tickWidth":{"condition":{"test":"abs(datum.value*2-round(datum.value*2))<0.01","value":2},"value":1.5}}}}}
],"resolve":{"axis":{"x":"independent","y":"independent"}}},
{"width":21,"height":417,"data":{"values":[{"low":0.296,"high":3.89}]},"mark":{"type":"rect","color":{"gradient":"linear","x1":0,"y1":1,"x2":0,"y2":0,"stops":[{"offset":0,"color":"#000080"},{"offset":0.2,"color":"#00bfff"},{"offset":0.4,"color":"#ff0000"},{"offset":0.6,"color":"#ffa500"},{"offset":0.8,"color":"#333333"},{"offset":1,"color":"#dda0dd"}]}},"encoding":{"y":{"field":"low","type":"quantitative","scale":{"type":"log","domain":[0.296,3.89],"nice":false},"axis":{"orient":"right","title":null,"domain":false,"grid":false,"zindex":1,"values":[0.5,1,1.5,2,2.5,3,3.5],"format":".1f","labelFontSize":14.5,"labelColor":"black","labelPadding":11,"labelOverlap":false,"labelBound":false,"labelFlush":false,"tickColor":"black","tickSize":-8,"tickWidth":2}},"y2":{"field":"high"}}}
]}
]}
